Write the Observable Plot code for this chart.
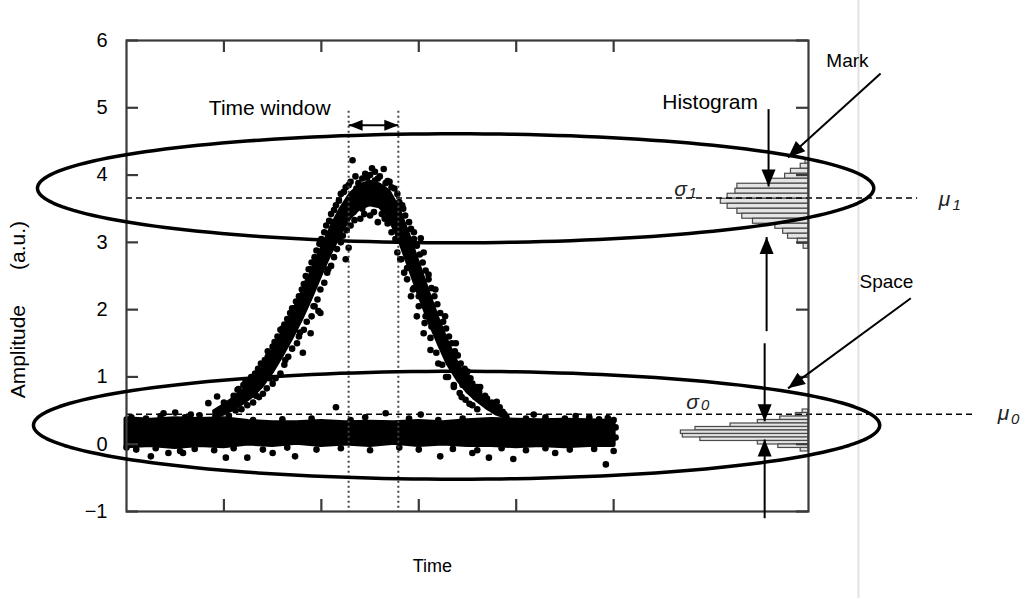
<!DOCTYPE html>
<html><head><meta charset="utf-8">
<script src="https://cdn.jsdelivr.net/npm/d3@7"></script>
<script src="https://cdn.jsdelivr.net/npm/@observablehq/plot@0.6"></script>
<style>body{margin:0;background:#fff}</style>
</head><body><div id="chart"></div>
<script>
// ---- axis ticks ----
const yTicks = [-1, 0, 1, 2, 3, 4, 5, 6];
const xTicks = [1, 2, 3, 4, 5];

// ---- dense "space" band (time, lower, upper) ----
const baseT  = [0,0.25,0.5,0.75,1,1.25,1.5,1.75,2,2.25,2.5,2.75,3,3.25,3.5,3.75,4,4.25,4.5,4.75,5];
const baseLo = [-0.03,-0.01,-0.04,-0.01,-0.03,0.01,-0.01,0.02,-0.01,0.01,-0.01,0.02,-0.01,0.01,-0.01,-0.01,-0.03,-0.01,-0.03,-0.01,-0.01];
const baseHi = [0.37,0.35,0.37,0.36,0.37,0.33,0.31,0.31,0.33,0.31,0.32,0.31,0.33,0.31,0.34,0.36,0.35,0.34,0.35,0.34,0.33];

// ---- dense "mark" pulse core (time, lower, upper) ----
const pulseT  = [0.9,1.0,1.1,1.2,1.3,1.4,1.5,1.6,1.7,1.8,1.9,2.0,2.1,2.2,2.3,2.4,2.5,2.6,2.7,2.8,2.9,3.0,3.1,3.2,3.3,3.4,3.5,3.6,3.7,3.8,3.9];
const pulseLo = [0.38,0.44,0.51,0.6,0.71,0.86,1.06,1.3,1.56,1.84,2.16,2.5,2.83,3.12,3.36,3.5,3.55,3.52,3.35,3.03,2.63,2.22,1.84,1.5,1.18,0.95,0.77,0.64,0.53,0.44,0.39];
const pulseHi = [0.49,0.58,0.68,0.8,0.95,1.14,1.38,1.66,1.94,2.24,2.56,2.9,3.22,3.5,3.72,3.85,3.9,3.86,3.76,3.5,3.12,2.7,2.28,1.88,1.52,1.2,0.96,0.79,0.65,0.54,0.46];

// ---- individual samples around the bands [time, amplitude] ----
const scatterDots = [
[0.05,0.4],[0.2,0.38],[0.35,0.42],[0.6,0.4],[0.75,0.43],[1.3,0.36],[1.6,0.37],[1.9,0.38],[2.3,0.36],[2.45,0.4],[2.9,0.38],[3.2,0.36],[3.45,0.38],[3.9,0.4],[4.1,0.38],[4.3,0.4],[4.5,0.38],[4.75,0.4],[4.85,0.37],[5.0,0.36],
[0.0,-0.05],[0.1,-0.08],[0.3,-0.06],[0.55,-0.1],[0.7,-0.07],[0.9,-0.09],[1.1,-0.06],[1.4,-0.08],[1.65,-0.05],[1.95,-0.08],[2.2,-0.06],[2.5,-0.09],[2.8,-0.05],[3.0,-0.08],[3.35,-0.07],[3.6,-0.09],[3.85,-0.06],[4.1,-0.09],[4.3,-0.06],[4.55,-0.08],[4.8,-0.07],[5.0,-0.1],[5.02,0.1],[5.02,0.25],
[0.93,0.71],[0.84,0.61],[1.14,0.81],[0.38,0.46],[0.5,0.47],[0.66,0.44],[2.15,0.55],[2.66,0.46],[3.02,0.44],[4.18,0.44],[4.61,0.42],[4.94,0.39],
[0.43,-0.13],[0.25,-0.18],[0.58,-0.13],[1.02,-0.2],[1.24,-0.2],[1.5,-0.13],[1.73,-0.18],[3.22,-0.18],[3.55,-0.13],[3.72,-0.2],[3.97,-0.22],[4.4,-0.13],[4.92,-0.3],
[1.0,0.62],[1.1,0.72],[1.2,0.88],[1.28,1.0],[1.35,1.12],[1.42,1.25],[1.5,1.45],[1.55,1.6],[1.62,1.78],[1.68,1.95],[1.74,2.12],[1.8,2.3],[1.84,2.5],[1.9,2.7],[1.95,2.88],[2.0,3.05],[2.05,3.25],[2.1,3.42],[2.15,3.55],[2.2,3.72],[2.25,3.82],[2.3,3.9],[2.35,3.98],
[1.05,0.42],[1.18,0.52],[1.3,0.62],[1.4,0.75],[1.5,0.9],[1.58,1.05],[1.66,1.3],[1.75,1.5],[1.82,1.7],[1.9,1.9],[1.96,2.15],[2.03,2.4],[2.1,2.65],[2.16,2.9],[2.22,3.1],[2.3,3.25],
[1.81,1.36],[1.89,1.65],[1.99,1.95],[1.97,1.98],[2.25,2.75],[2.28,2.92],[1.89,2.6],
[1.25,0.95],[1.33,0.72],[1.45,1.3],[1.47,0.98],[1.6,1.72],[1.63,1.25],[1.72,2.02],[1.77,1.6],[1.86,2.42],[1.93,2.05],[2.02,2.95],[2.07,2.6],[2.12,3.3],[2.18,3.05],[2.27,3.6],[2.33,3.45],[2.38,3.88],[2.42,3.5],
[1.15,0.82],[1.22,0.92],[1.32,1.05],[1.38,1.2],[1.45,1.38],[1.52,1.52],[1.58,1.7],[1.65,1.86],[1.7,2.02],[1.77,2.2],[1.82,2.38],[1.87,2.6],[1.93,2.78],[1.98,2.98],[2.03,3.15],[2.08,3.32],[2.13,3.48],[2.18,3.62],[2.23,3.75],[2.28,3.85],
[1.12,0.5],[1.24,0.58],[1.36,0.7],[1.44,0.83],[1.53,0.98],[1.62,1.18],[1.7,1.42],[1.78,1.66],[1.85,1.82],[1.92,2.05],[1.99,2.3],[2.06,2.55],[2.13,2.78],[2.2,3.0],[2.26,3.18],[2.34,3.33],
[2.32,4.22],[2.47,3.96],[2.52,4.1],[2.64,4.09],[2.68,3.91],[2.4,3.35],[2.45,4.02],[2.55,4.05],[2.6,3.98],[2.65,3.35],[2.7,3.9],[2.5,3.4],[2.58,3.3],
[2.55,3.92],[2.62,3.6],[2.75,3.55],[2.7,3.3],
[2.36,3.8],[2.42,3.95],[2.5,4.0],[2.58,3.95],[2.66,3.88],[2.72,3.82],[2.44,3.42],[2.54,3.45],[2.62,3.42],[2.68,3.28],[2.35,3.6],[2.75,3.4],
[2.75,3.8],[2.8,3.6],[2.86,3.4],[2.92,3.2],[2.98,2.95],[3.04,2.7],[3.1,2.45],[3.16,2.2],[3.22,1.95],[3.28,1.72],[3.34,1.5],[3.4,1.32],[3.47,1.12],[3.53,0.98],[3.6,0.85],[3.68,0.72],[3.75,0.62],[3.83,0.55],
[2.72,3.15],[2.78,2.85],[2.85,2.55],[2.92,2.2],[2.98,1.9],[3.05,1.65],[3.12,1.4],[3.2,1.2],[3.28,1.0],[3.36,0.85],[3.44,0.7],[3.52,0.6],[3.6,0.52],
[2.83,3.55],[2.87,3.0],[2.95,3.15],[3.0,2.2],[3.05,2.85],[3.13,1.75],[3.17,2.3],[3.25,1.45],[3.27,1.9],[3.35,1.2],[3.38,1.5],[3.45,0.88],[3.5,1.08],[3.58,0.7],[3.63,0.85],[3.72,0.55],[3.8,0.63],[3.86,0.48],
[2.78,3.72],[2.84,3.5],[2.9,3.3],[2.95,3.05],[3.01,2.82],[3.07,2.58],[3.13,2.32],[3.19,2.08],[3.25,1.82],[3.31,1.6],[3.37,1.38],[3.43,1.2],[3.49,1.03],[3.55,0.9],[3.62,0.78],[3.7,0.68],[3.78,0.58],
[2.76,3.05],[2.82,2.75],[2.88,2.45],[2.94,2.3],[3.0,2.05],[3.06,1.8],[3.12,1.58],[3.18,1.36],[3.24,1.18],[3.3,1.0],[3.36,0.88],[3.42,0.76],[3.48,0.66],[3.55,0.58],
[3.02,3.06],[2.81,2.75],[2.88,2.62],[2.95,2.32],[3.1,2.52],[3.07,1.9]
];

// ---- histograms (bin centre amplitude, count width in time units) ----
const histMarkA = [4.205,4.131,4.056,3.982,3.908,3.834,3.759,3.685,3.611,3.536,3.462,3.388,3.314,3.239,3.165,3.091,3.016,2.942];
const histMarkW = [0.03,0.08,0.18,0.24,0.41,0.73,0.75,0.83,0.90,0.83,0.73,0.68,0.57,0.34,0.26,0.21,0.11,0.05];
const histSpaceA = [0.490,0.438,0.386,0.334,0.282,0.230,0.178,0.126,0.074,0.022,-0.030,-0.082];
const histSpaceW = [0.06,0.13,0.29,0.52,0.80,1.16,1.31,1.29,1.11,0.52,0.31,0.08];
const histMarkBin = 0.0743, histSpaceBin = 0.052, histBase = 7;

// ---- levels ----
const mu1 = 3.66, mu0 = 0.446;
const windowT = [2.28, 2.79];

// ---- annotation geometry (data units) ----
const ellipses = [
  {id: "mark",  ct: 3.378, ca: 3.804, rt: 4.292, ra: 0.81},
  {id: "space", ct: 3.388, ca: 0.282, rt: 4.343, ra: 0.802}
];
const arrows = [
  {t1: 6.59, a1: 4.98, t2: 6.59, a2: 3.83},
  {t1: 7.74, a1: 5.51, t2: 6.79, a2: 4.26},
  {t1: 8.05, a1: 2.17, t2: 6.79, a2: 0.83},
  {t1: 6.57, a1: 1.68, t2: 6.57, a2: 3.08},
  {t1: 6.55, a1: 1.50, t2: 6.55, a2: 0.34},
  {t1: 6.55, a1: -1.10, t2: 6.55, a2: 0.07}
];
const windowArrowA = 4.74;
const labelsBig = [
  {label: "Time window", t: 1.47, a: 4.99},
  {label: "Histogram", t: 5.99, a: 5.08}
];
const labelsMid = [
  {label: "Mark", t: 7.40, a: 5.69},
  {label: "Space", t: 7.80, a: 2.41}
];
const axisLabelX = [{label: "Time", t: 3.14, a: -1.81}];
const greek = [
  {label: "σ", t: 5.686, a: 3.79}, {label: "σ", t: 5.809, a: 0.624},
  {label: "μ", t: 8.396, a: 3.64}, {label: "μ", t: 9.001, a: 0.46}
];
const subs = [
  {label: "1", t: 5.81, a: 3.73}, {label: "0", t: 5.94, a: 0.58},
  {label: "1", t: 8.52, a: 3.552}, {label: "0", t: 9.12, a: 0.372}
];
const yLabel = [{label: "Amplitude\u00a0\u00a0\u00a0\u00a0\u00a0\u00a0(a.u.)", t: -1.109, a: 2.0}];
const pageEdgeT = [7.513];

// ---- build tables ----
const W = 1027, H = 598, mL = 126, mR = 219, mT = 40, mB = 87;
const kx = (W - mL - mR) / 7, ky = (H - mT - mB) / 7;
const baseRows = baseT.map((t, i) => ({t, lo: baseLo[i], hi: baseHi[i]}));
const pulseRows = pulseT.map((t, i) => ({t, lo: pulseLo[i], hi: pulseHi[i]}));
const dotRows = scatterDots.map(([t, a]) => ({t, a}));
const histRows = [
  ...histMarkA.map((a, i) => ({a1: a - histMarkBin / 2, a2: a + histMarkBin / 2, t1: histBase - histMarkW[i], t2: histBase})),
  ...histSpaceA.map((a, i) => ({a1: a - histSpaceBin / 2, a2: a + histSpaceBin / 2, t1: histBase - histSpaceW[i], t2: histBase}))
];
const ellipseRows = ellipses.flatMap(e => d3.range(0, 362, 2).map(d => ({
  id: e.id, t: e.ct + e.rt * Math.cos(d * Math.PI / 180), a: e.ca + e.ra * Math.sin(d * Math.PI / 180)
})));
const rot = (t1, a1, t2, a2) => Math.atan2((t2 - t1) * kx, (a2 - a1) * ky) * 180 / Math.PI;
const heads = arrows.map(d => ({t: d.t2, a: d.a2, r: rot(d.t1, d.a1, d.t2, d.a2)}));
const winHeads = [
  {t: windowT[0], a: windowArrowA, r: rot(windowT[1], 0, windowT[0], 0)},
  {t: windowT[1], a: windowArrowA, r: rot(windowT[0], 0, windowT[1], 0)}
];
const headBig = {draw(ctx) { ctx.moveTo(0, 0); ctx.lineTo(-7, 17); ctx.lineTo(7, 17); ctx.closePath(); }};
const headSmall = {draw(ctx) { ctx.moveTo(0, 0); ctx.lineTo(-5.5, 14); ctx.lineTo(5.5, 14); ctx.closePath(); }};

const font = "Arial, 'Liberation Sans', Helvetica, sans-serif";
const chart = Plot.plot({
  width: W, height: H,
  marginLeft: mL, marginRight: mR, marginTop: mT, marginBottom: mB,
  x: {domain: [0, 7], axis: null},
  y: {domain: [-1, 6], axis: null},
  style: {fontFamily: font, background: "white", color: "black"},
  marks: [
    Plot.ruleX(pageEdgeT, {y1: 6.6, y2: -2.35, stroke: "#e2e2e2", strokeWidth: 2}),
    // samples
    Plot.areaY(baseRows, {x: "t", y1: "lo", y2: "hi", fill: "black", stroke: "black", strokeWidth: 5, strokeLinejoin: "round"}),
    Plot.areaY(pulseRows, {x: "t", y1: "lo", y2: "hi", fill: "black", stroke: "black", strokeWidth: 3, strokeLinejoin: "round"}),
    Plot.dot(dotRows, {x: "t", y: "a", r: 3.3, fill: "black"}),
    // histograms
    Plot.rect(histRows, {x1: "t1", x2: "t2", y1: "a1", y2: "a2", fill: "#e4e4e4", stroke: "#4a4a4a", strokeWidth: 1.2}),
    // time window
    Plot.ruleX(windowT, {y1: 4.95, y2: -1, stroke: "#444", strokeWidth: 2, strokeDasharray: "2 3"}),
    // levels
    Plot.ruleY([mu1], {x1: 0, x2: 8.12, stroke: "black", strokeWidth: 1.5, strokeDasharray: "6 4"}),
    Plot.ruleY([mu0], {x1: 0, x2: 8.71, stroke: "black", strokeWidth: 1.5, strokeDasharray: "6 4"}),
    // frame & inward ticks
    Plot.frame({stroke: "#3a3a3a", strokeWidth: 2.2}),
    Plot.ruleY(yTicks, {x1: 0, x2: 12 / kx, stroke: "#3a3a3a", strokeWidth: 2.2}),
    Plot.ruleY(yTicks, {x1: 7 - 12 / kx, x2: 7, stroke: "#3a3a3a", strokeWidth: 2.2}),
    Plot.ruleX(xTicks, {y1: -1, y2: -1 + 12 / ky, stroke: "#3a3a3a", strokeWidth: 2.2}),
    Plot.ruleX(xTicks, {y1: 6 - 12 / ky, y2: 6, stroke: "#3a3a3a", strokeWidth: 2.2}),
    Plot.axisY(yTicks, {tickSize: 0, tickPadding: 19, fontSize: 20, label: null, tickFormat: d => d < 0 ? "\u2212" + Math.abs(d) : String(d)}),
    // ellipses
    Plot.line(ellipseRows, {x: "t", y: "a", z: "id", stroke: "black", strokeWidth: 3.5}),
    // arrows
    Plot.link(arrows, {x1: "t1", y1: "a1", x2: "t2", y2: "a2", stroke: "black", strokeWidth: 2}),
    Plot.dot(heads, {x: "t", y: "a", rotate: "r", symbol: headBig, fill: "black", stroke: "none"}),
    Plot.link([windowArrowA], {x1: windowT[0], x2: windowT[1], y1: d => d, y2: d => d, stroke: "black", strokeWidth: 2}),
    Plot.dot(winHeads, {x: "t", y: "a", rotate: "r", symbol: headSmall, fill: "black", stroke: "none"}),
    // texts
    Plot.text(labelsBig, {x: "t", y: "a", text: "label", fontSize: 21, fill: "black"}),
    Plot.text(labelsMid, {x: "t", y: "a", text: "label", fontSize: 19, fill: "black"}),
    Plot.text(axisLabelX, {x: "t", y: "a", text: "label", fontSize: 18, fill: "black"}),
    Plot.text(greek, {x: "t", y: "a", text: "label", fontSize: 21, fontStyle: "italic", fill: "#222"}),
    Plot.text(subs, {x: "t", y: "a", text: "label", fontSize: 15, fontStyle: "italic", fill: "#222"}),
    Plot.text(yLabel, {x: "t", y: "a", text: "label", rotate: -90, fontSize: 21, fill: "black"})
  ]
});
document.getElementById("chart").append(chart);
</script>
</body></html>
